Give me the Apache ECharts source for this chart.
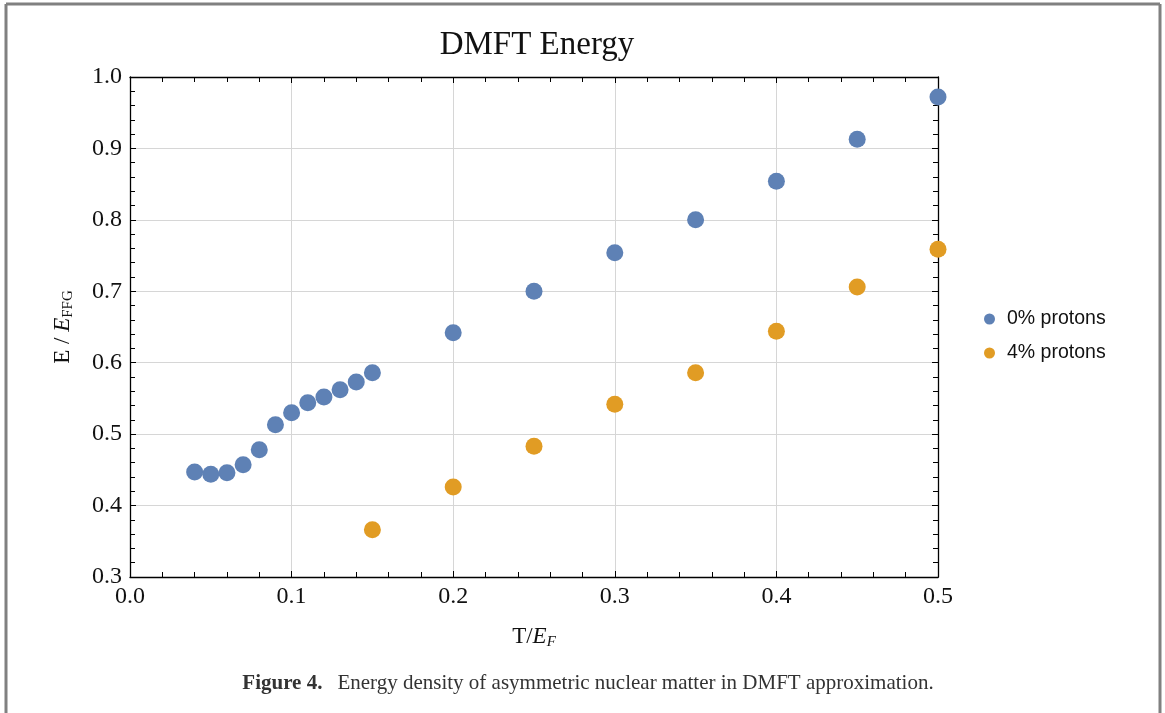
<!DOCTYPE html>
<html>
<head>
<meta charset="utf-8">
<script src="https://cdn.jsdelivr.net/npm/echarts@6/dist/echarts.min.js"></script>
<style>
  html, body { margin: 0; padding: 0; background: #fff; }
  #chart { width: 1165px; height: 713px; }
</style>
</head>
<body>
<div id="chart"></div>
<script>
// values
const tempBlue = [0.04, 0.05, 0.06, 0.07, 0.08, 0.09, 0.10, 0.11, 0.12, 0.13, 0.14, 0.15, 0.20, 0.25, 0.30, 0.35, 0.40, 0.45, 0.50]
const energyBlue = [0.447, 0.444, 0.446, 0.457, 0.478, 0.513, 0.530, 0.544, 0.552, 0.562, 0.573, 0.586, 0.642, 0.700, 0.754, 0.800, 0.854, 0.913, 0.972]
const tempOrange = [0.15, 0.20, 0.25, 0.30, 0.35, 0.40, 0.45, 0.50]
const energyOrange = [0.366, 0.426, 0.483, 0.542, 0.586, 0.644, 0.706, 0.759]
const seriesNames = ['0% protons', '4% protons']

const serif = 'Liberation Serif'
const pair = (xs, ys) => xs.map((x, i) => [x, ys[i]])

const chart = echarts.init(document.getElementById('chart'))

const baseAxis = {
  type: 'value',
  axisLine: { show: true, onZero: false, lineStyle: { color: '#000', width: 1.3 } },
  axisTick: { show: true, inside: true, length: 6, lineStyle: { color: '#000' } },
  minorTick: { show: true, splitNumber: 5, length: 5, lineStyle: { color: '#000' } },
}

chart.setOption({
  animation: false,
  title: [
    { text: 'DMFT Energy', left: 532, top: 24, textAlign: 'center',
      textStyle: { fontFamily: serif, fontSize: 33, fontWeight: 'normal', color: '#111' } },
    { text: '{b|Figure 4.}   {n|Energy density of asymmetric nuclear matter in DMFT approximation.}',
      left: 583, top: 668, textAlign: 'center',
      textStyle: { rich: {
        b: { fontFamily: serif, fontSize: 21, fontWeight: 'bold', color: '#333' },
        n: { fontFamily: serif, fontSize: 21, fontWeight: 'normal', color: '#333' },
      } } },
  ],
  legend: {
    left: 979, top: 304, orient: 'vertical', itemGap: 14,
    icon: 'circle', itemWidth: 11, itemHeight: 11,
    data: seriesNames,
    textStyle: { fontFamily: 'Liberation Sans', fontSize: 19.5, color: '#111', padding: [0, 0, 0, 7] },
  },
  grid: { left: 130, right: 227, top: 77, bottom: 136 },
  xAxis: [
    { ...baseAxis, position: 'bottom', min: 0, max: 0.5, interval: 0.1,
      name: '{n|T/}{i|E}{s|F}', nameLocation: 'middle', nameGap: 46,
      nameTextStyle: { rich: {
        n: { fontFamily: serif, fontSize: 23, color: '#111' },
        i: { fontFamily: serif, fontSize: 23, fontStyle: 'italic', color: '#111' },
        s: { fontFamily: serif, fontSize: 15, fontStyle: 'italic', color: '#111', padding: [12, 0, 0, 0] },
      } },
      axisLabel: { fontFamily: serif, fontSize: 24, color: '#111', margin: 8, formatter: v => v.toFixed(1) },
      splitLine: { show: true, lineStyle: { color: '#d6d6d6' } } },
    { ...baseAxis, position: 'top', min: 0, max: 0.5, interval: 0.1,
      axisLabel: { show: false }, splitLine: { show: false } },
  ],
  yAxis: [
    { ...baseAxis, position: 'left', min: 0.3, max: 1.0, interval: 0.1,
      name: '{n|E / }{i|E}{s|FFG}', nameLocation: 'middle', nameGap: 54, nameRotate: 90,
      nameTextStyle: { rich: {
        n: { fontFamily: serif, fontSize: 23, color: '#111' },
        i: { fontFamily: serif, fontSize: 23, fontStyle: 'italic', color: '#111' },
        s: { fontFamily: serif, fontSize: 15, color: '#111', padding: [12, 0, 0, 0] },
      } },
      axisLabel: { fontFamily: serif, fontSize: 24, color: '#111', margin: 8, formatter: v => v.toFixed(1) },
      splitLine: { show: true, lineStyle: { color: '#d6d6d6' } } },
    { ...baseAxis, position: 'right', min: 0.3, max: 1.0, interval: 0.1,
      axisLabel: { show: false }, splitLine: { show: false } },
  ],
  series: [
    { name: seriesNames[0], type: 'scatter', data: pair(tempBlue, energyBlue),
      symbolSize: 17, itemStyle: { color: '#5e81b5', opacity: 1 }, clip: false },
    { name: seriesNames[1], type: 'scatter', data: pair(tempOrange, energyOrange),
      symbolSize: 17, itemStyle: { color: '#e19c24', opacity: 1 }, clip: false },
  ],
  graphic: [
    { type: 'line', shape: { x1: 6, y1: 4, x2: 1160, y2: 4 }, style: { stroke: '#808080', lineWidth: 3 } },
    { type: 'line', shape: { x1: 6, y1: 4, x2: 6, y2: 713 }, style: { stroke: '#808080', lineWidth: 3 } },
    { type: 'line', shape: { x1: 1160, y1: 4, x2: 1160, y2: 713 }, style: { stroke: '#808080', lineWidth: 3 } },
  ],
})
</script>
</body>
</html>
